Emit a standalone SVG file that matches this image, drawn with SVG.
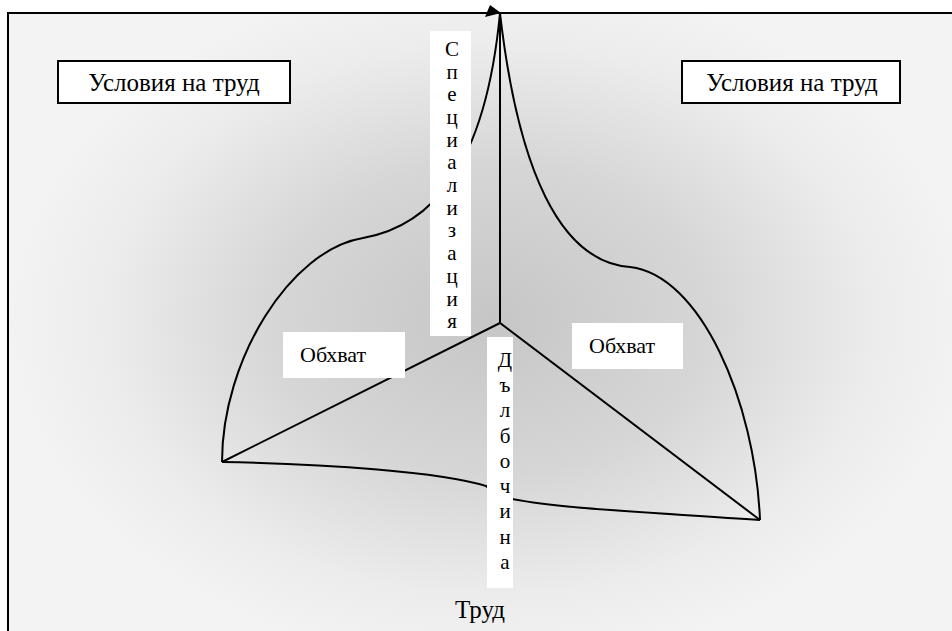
<svg xmlns="http://www.w3.org/2000/svg" width="952" height="631" viewBox="0 0 952 631">
<defs>
<radialGradient id="bg" gradientUnits="userSpaceOnUse" cx="490" cy="320" r="480" gradientTransform="translate(490 320) scale(1 0.72) translate(-490 -320)">
<stop offset="0" stop-color="#c6c6c6"/>
<stop offset="0.45" stop-color="#d6d6d6"/>
<stop offset="0.8" stop-color="#ececec"/>
<stop offset="1" stop-color="#f3f3f3"/>
</radialGradient>
<style>
.t{font-family:"Liberation Serif","Times New Roman",serif;fill:#000;}
.box{fill:#fff;stroke:#000;stroke-width:2;}
.lbl{fill:#fff;stroke:none;}
.ln{fill:none;stroke:#000;stroke-width:2;}
</style>
</defs>
<rect x="0" y="0" width="952" height="631" fill="#fff"/>
<rect x="8" y="13" width="944" height="618" fill="url(#bg)"/>
<path d="M8,631 V13 H952" fill="none" stroke="#000" stroke-width="2"/>

<g id="connectors">
<path class="ln" d="M222,462 C222,360 290,250 363,238 C430,226 485,170 500,13"/>
<path class="ln" d="M500,13 C518,170 560,262 630,267 C700,275 755,400 760,520"/>
<path class="ln" d="M222,462 C330,464 440,472 486,486 C490,488 489,492 494,494 C530,508 650,512 760,520"/>
<path class="ln" d="M222,462 L500,323 L760,520"/>
<path class="ln" d="M500,323 V13"/>
<polygon points="485,17 490,5 501,13" fill="#000"/>
</g>

<g id="cond-left">
<rect class="box" x="58" y="61" width="232" height="42"/>
<text class="t" x="174" y="91" font-size="25" text-anchor="middle">Условия на труд</text>
</g>
<g id="cond-right">
<rect class="box" x="682" y="61" width="218" height="42"/>
<text class="t" x="792" y="91" font-size="25" text-anchor="middle">Условия на труд</text>
</g>

<g id="spec">
<rect class="lbl" x="430" y="31" width="41" height="305"/>
<text class="t" font-size="21" text-anchor="middle">
<tspan x="452" y="56">С</tspan><tspan x="452" y="79">п</tspan><tspan x="452" y="101">е</tspan><tspan x="452" y="124">ц</tspan><tspan x="452" y="147">и</tspan><tspan x="452" y="169">а</tspan><tspan x="452" y="192">л</tspan><tspan x="452" y="215">и</tspan><tspan x="452" y="237">з</tspan><tspan x="452" y="260">а</tspan><tspan x="452" y="283">ц</tspan><tspan x="452" y="306">и</tspan><tspan x="452" y="328">я</tspan>
</text>
</g>

<g id="depth">
<rect class="lbl" x="487" y="337" width="26" height="251"/>
<text class="t" font-size="21" text-anchor="middle">
<tspan x="505" y="367">Д</tspan><tspan x="505" y="392">ъ</tspan><tspan x="505" y="417">л</tspan><tspan x="505" y="443">б</tspan><tspan x="505" y="468">о</tspan><tspan x="505" y="493">ч</tspan><tspan x="505" y="518">и</tspan><tspan x="505" y="544">н</tspan><tspan x="505" y="569">а</tspan>
</text>
</g>

<g id="scope-left">
<rect class="lbl" x="283" y="332" width="122" height="46"/>
<text class="t" x="300" y="362" font-size="22">Обхват</text>
</g>
<g id="scope-right">
<rect class="lbl" x="572" y="323" width="111" height="46"/>
<text class="t" x="589" y="353" font-size="22">Обхват</text>
</g>

<g id="labor">
<text class="t" x="480" y="618" font-size="25" text-anchor="middle">Труд</text>
</g>
</svg>
